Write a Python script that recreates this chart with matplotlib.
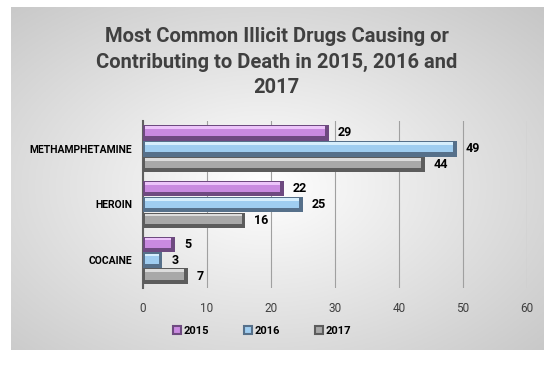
import matplotlib.pyplot as plt
import numpy as np

drugs = ["METHAMPHETAMINE", "HEROIN", "COCAINE"]
years = ["2015", "2016", "2017"]
deaths_2015 = [29, 22, 5]
deaths_2016 = [49, 25, 3]
deaths_2017 = [44, 16, 7]
xticks = [0, 10, 20, 30, 40, 50, 60]

series = [deaths_2015, deaths_2016, deaths_2017]
# main / dark edge / highlight per year
main_cols = ["#c98ae0", "#9fcdf0", "#a8a8a8"]
dark_cols = ["#6e4a80", "#56708a", "#5c5c5c"]
light_cols = ["#ecc4fa", "#d6eefc", "#dcdcdc"]

plt.rcParams['font.family'] = ['Roboto', 'DejaVu Sans']

fig = plt.figure(figsize=(5.53, 3.66), dpi=100)

# gray panel with radial gradient
bg = fig.add_axes([11/553, 1 - 350/366, 533/553, 343/366])
yy, xx = np.mgrid[-1:1:200j, -1:1:300j]
r = np.sqrt(((xx + 0.05) / 1.0) ** 2 + ((yy - 0.05) / 1.0) ** 2)
g = np.clip(1.0 - 0.15 * r, 0.76, 1.0)
bg.imshow(np.dstack([g, g, g]), aspect="auto", extent=[0, 1, 0, 1])
bg.set_axis_off()

fig.text(0.5, 1 - 62/366, "Most Common Illicit Drugs Causing or\nContributing to Death in 2015, 2016 and\n2017",
         ha="center", va="center", fontsize=14.5, fontweight="bold", color="#404040",
         linespacing=1.45)

ax = fig.add_axes([143/553, 1 - 288/366, 384/553, 167/366])
ax.patch.set_alpha(0)
y = np.arange(len(drugs))
h = 0.285
for i, vals in enumerate(series):
    pos = y - h + i * h
    v = np.array(vals)
    ax.barh(pos, v, height=h * 0.98, color=dark_cols[i], zorder=3)
    ax.barh(pos - h * 0.1, v - 0.9, left=0.35, height=h * 0.64,
            color=main_cols[i], zorder=4)
    ax.barh(pos - h * 0.33, v - 0.9, left=0.35, height=h * 0.17,
            color=light_cols[i], zorder=5)
    for p, val in zip(pos, vals):
        ax.text(val + 1.4, p, str(val), va="center", ha="left", fontsize=9,
                fontweight="bold", color="black", zorder=6)

ax.set_xlim(0, 60)
ax.set_ylim(2.5, -0.5)
ax.set_xticks(xticks)
ax.set_xticklabels([str(t) for t in xticks], color="#404040", fontsize=8.5)
ax.set_yticks(y)
ax.set_yticklabels(drugs, fontsize=7.5, fontweight="bold", color="black")
ax.tick_params(length=0, pad=8)
ax.tick_params(axis="x", pad=10)
ax.grid(axis="x", color="#a0a0a0", linewidth=0.8, zorder=0)
for s in ["top", "right", "bottom"]:
    ax.spines[s].set_visible(False)
ax.spines["left"].set_color("#606060")
ax.spines["left"].set_linewidth(1.5)

handles = [plt.Rectangle((0, 0), 1, 1, facecolor=main_cols[i], edgecolor=dark_cols[i], linewidth=1.5)
           for i in range(3)]
fig.legend(handles, years, loc="center", bbox_to_anchor=(262/553, 1 - 331/366), ncol=3,
           frameon=False, prop={"weight": "bold", "size": 8}, handlelength=0.7,
           handleheight=0.7, handletextpad=0.2, columnspacing=3.2)

fig.savefig("out.png", dpi=100)
